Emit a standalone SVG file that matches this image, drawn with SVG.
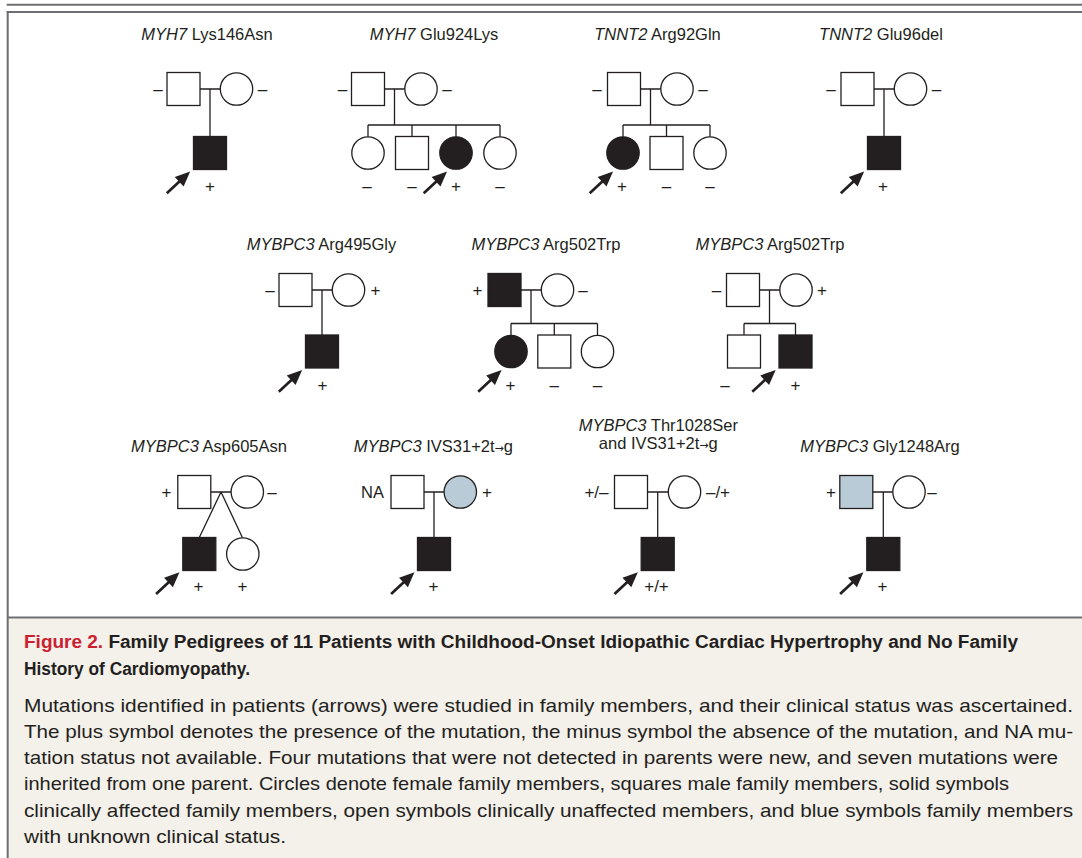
<svg xmlns="http://www.w3.org/2000/svg" width="1082" height="858" viewBox="0 0 1082 858">
<style>
.sh{stroke:#231f20;stroke-width:1.3;fill:#fff}
.aff{fill:#231f20}
.unk{fill:#b9cbd6}
.ln{stroke:#231f20;stroke-width:1.3;fill:none}
.arr{stroke:#231f20;stroke-width:2.7;fill:none;marker-end:url(#ah)}
.ttl{font-family:"Liberation Sans",Arial,sans-serif;font-size:16.5px;fill:#231f20;text-anchor:middle}
.lab{font-family:"Liberation Sans",Arial,sans-serif;font-size:17px;fill:#231f20;text-anchor:middle}
.it{font-style:italic}
.ar{font-family:"DejaVu Sans",sans-serif;font-size:11px}
.frm{stroke:#6d6e71;stroke-width:2;fill:none}
.capt{font-family:"Liberation Sans",Arial,sans-serif;font-size:17.5px;font-weight:bold;fill:#231f20}
.capb{font-family:"Liberation Sans",Arial,sans-serif;font-size:19px;fill:#231f20}
.red{fill:#cc2030}
</style>
<defs>
<marker id="ah" markerUnits="userSpaceOnUse" markerWidth="16" markerHeight="14" refX="4" refY="6.5" orient="auto" overflow="visible">
<path d="M0,0 L15,6.5 L0,13 z" fill="#231f20"/>
</marker>
</defs>

<g id="frame">
<rect x="8.7" y="618.5" width="1073.3" height="239.5" fill="#f4f0ea"/>
<line class="frm" x1="6.7" y1="4.7" x2="1082" y2="4.7"/>
<line class="frm" x1="6.7" y1="12" x2="1082" y2="12"/>
<line class="frm" x1="7.7" y1="11" x2="7.7" y2="858"/>
<line class="frm" x1="7.7" y1="617.6" x2="1082" y2="617.6"/>
</g>

<g id="titles">
<text class="ttl" x="207" y="40"><tspan class="it">MYH7</tspan> Lys146Asn</text>
<text class="ttl" x="434" y="40"><tspan class="it">MYH7</tspan> Glu924Lys</text>
<text class="ttl" x="657.5" y="40"><tspan class="it">TNNT2</tspan> Arg92Gln</text>
<text class="ttl" x="881" y="40"><tspan class="it">TNNT2</tspan> Glu96del</text>
<text class="ttl" x="321.5" y="250"><tspan class="it">MYBPC3</tspan> Arg495Gly</text>
<text class="ttl" x="546" y="250"><tspan class="it">MYBPC3</tspan> Arg502Trp</text>
<text class="ttl" x="770" y="250"><tspan class="it">MYBPC3</tspan> Arg502Trp</text>
<text class="ttl" x="209" y="452"><tspan class="it">MYBPC3</tspan> Asp605Asn</text>
<text class="ttl" x="433.4" y="452"><tspan class="it">MYBPC3</tspan> IVS31+2t<tspan class="ar">→</tspan>g</text>
<text class="ttl" x="658.3" y="431"><tspan class="it">MYBPC3</tspan> Thr1028Ser</text>
<text class="ttl" x="658.3" y="449">and IVS31+2t<tspan class="ar">→</tspan>g</text>
<text class="ttl" x="880" y="452"><tspan class="it">MYBPC3</tspan> Gly1248Arg</text>
</g>

<g id="connectors">
<path class="ln" d="M200 89 H220.3 M210 89 V136.5"/>
<path class="ln" d="M384.5 89 H404.8 M394.5 89 V125 M368 125 H500 M368 125 V136.8 M412 125 V136.5 M456 125 V136.8 M500 125 V136.8"/>
<path class="ln" d="M640.5 89 H660.8 M650.5 89 V125 M623 125 H710 M623 125 V136.8 M666.5 125 V136.5 M710 125 V136.8"/>
<path class="ln" d="M874 89 H894.3 M884 89 V136.5"/>
<path class="ln" d="M312 290 H332.3 M322 290 V335"/>
<path class="ln" d="M521 290 H541.3 M531 290 V323.5 M511 323.5 H597.5 M511 323.5 V335.3 M554.3 323.5 V335 M597.5 323.5 V335.3"/>
<path class="ln" d="M759.5 290 H779.8 M769.5 290 V323.5 M744 323.5 H795.5 M744 323.5 V335 M795.5 323.5 V335"/>
<path class="ln" d="M210.8 492 H231.1 M221 492 L199.3 537.5 M221 492 L242.5 537.8"/>
<path class="ln" d="M424 492 H444.1 M434 492 V537.5"/>
<path class="ln" d="M647.5 492 H668.3 M657.7 492 V537.5"/>
<path class="ln" d="M872.8 492 H892.8 M883.3 492 V537.5"/>
<line class="arr" x1="166.8" y1="193.2" x2="182.1" y2="179"/>
<line class="arr" x1="423.7" y1="193.2" x2="439" y2="179"/>
<line class="arr" x1="589.7" y1="193.2" x2="605" y2="179"/>
<line class="arr" x1="840.8" y1="193.2" x2="856.1" y2="179"/>
<line class="arr" x1="278.8" y1="391.7" x2="294.1" y2="377.5"/>
<line class="arr" x1="478.2" y1="391.7" x2="493.5" y2="377.5"/>
<line class="arr" x1="752.3" y1="391.7" x2="767.6" y2="377.5"/>
<line class="arr" x1="156.1" y1="594" x2="171.4" y2="579.8"/>
<line class="arr" x1="391.1" y1="594" x2="406.4" y2="579.8"/>
<line class="arr" x1="614.5" y1="594" x2="629.8" y2="579.8"/>
<line class="arr" x1="840.1" y1="594" x2="855.4" y2="579.8"/>
</g>

<!-- Pedigree 1 -->
<g id="p1-father"><rect class="sh" x="167" y="72.5" width="33" height="33"/><text class="lab" x="158" y="94.5">–</text></g>
<g id="p1-mother"><circle class="sh" cx="236.5" cy="89" r="16.2"/><text class="lab" x="262.5" y="94.5">–</text></g>
<g id="p1-child"><rect class="sh aff" x="193.5" y="136.5" width="33" height="33"/><text class="lab" x="210" y="192">+</text></g>

<!-- Pedigree 2 -->
<g id="p2-father"><rect class="sh" x="351.5" y="72.5" width="33" height="33"/><text class="lab" x="342.5" y="94.5">–</text></g>
<g id="p2-mother"><circle class="sh" cx="421" cy="89" r="16.2"/><text class="lab" x="447" y="94.5">–</text></g>
<g id="p2-child1"><circle class="sh" cx="368" cy="153" r="16.2"/><text class="lab" x="367" y="192">–</text></g>
<g id="p2-child2"><rect class="sh" x="395.5" y="136.5" width="33" height="33"/><text class="lab" x="412" y="192">–</text></g>
<g id="p2-child3"><circle class="sh aff" cx="456" cy="153" r="16.2"/><text class="lab" x="456" y="192">+</text></g>
<g id="p2-child4"><circle class="sh" cx="500" cy="153" r="16.2"/><text class="lab" x="500" y="192">–</text></g>

<!-- Pedigree 3 -->
<g id="p3-father"><rect class="sh" x="607.5" y="72.5" width="33" height="33"/><text class="lab" x="597" y="94.5">–</text></g>
<g id="p3-mother"><circle class="sh" cx="677" cy="89" r="16.2"/><text class="lab" x="703" y="94.5">–</text></g>
<g id="p3-child1"><circle class="sh aff" cx="623" cy="153" r="16.2"/><text class="lab" x="622" y="192">+</text></g>
<g id="p3-child2"><rect class="sh" x="650" y="136.5" width="33" height="33"/><text class="lab" x="666.5" y="192">–</text></g>
<g id="p3-child3"><circle class="sh" cx="710" cy="153" r="16.2"/><text class="lab" x="710" y="192">–</text></g>

<!-- Pedigree 4 -->
<g id="p4-father"><rect class="sh" x="841" y="72.5" width="33" height="33"/><text class="lab" x="831" y="94.5">–</text></g>
<g id="p4-mother"><circle class="sh" cx="910.5" cy="89" r="16.2"/><text class="lab" x="936.5" y="94.5">–</text></g>
<g id="p4-child"><rect class="sh aff" x="867.5" y="136.5" width="33" height="33"/><text class="lab" x="883" y="192">+</text></g>

<!-- Pedigree 5 -->
<g id="p5-father"><rect class="sh" x="279" y="273.5" width="33" height="33"/><text class="lab" x="270" y="295.5">–</text></g>
<g id="p5-mother"><circle class="sh" cx="348.5" cy="290" r="16.2"/><text class="lab" x="375.5" y="296">+</text></g>
<g id="p5-child"><rect class="sh aff" x="305.5" y="335" width="33" height="33"/><text class="lab" x="322.5" y="390.5">+</text></g>

<!-- Pedigree 6 -->
<g id="p6-father"><rect class="sh aff" x="488" y="273.5" width="33" height="33"/><text class="lab" x="477.5" y="296">+</text></g>
<g id="p6-mother"><circle class="sh" cx="557.5" cy="290" r="16.2"/><text class="lab" x="583" y="295.5">–</text></g>
<g id="p6-child1"><circle class="sh aff" cx="511" cy="351.5" r="16.2"/><text class="lab" x="510.5" y="390.5">+</text></g>
<g id="p6-child2"><rect class="sh" x="537.8" y="335" width="33" height="33"/><text class="lab" x="554.3" y="390.5">–</text></g>
<g id="p6-child3"><circle class="sh" cx="597.5" cy="351.5" r="16.2"/><text class="lab" x="597.5" y="390.5">–</text></g>

<!-- Pedigree 7 -->
<g id="p7-father"><rect class="sh" x="726.5" y="273.5" width="33" height="33"/><text class="lab" x="716.5" y="295.5">–</text></g>
<g id="p7-mother"><circle class="sh" cx="796" cy="290" r="16.2"/><text class="lab" x="822" y="296">+</text></g>
<g id="p7-child1"><rect class="sh" x="727.5" y="335" width="33" height="33"/><text class="lab" x="725" y="390.5">–</text></g>
<g id="p7-child2"><rect class="sh aff" x="779" y="335" width="33" height="33"/><text class="lab" x="795.5" y="390.5">+</text></g>

<!-- Pedigree 9 -->
<g id="p9-father"><rect class="sh" x="177.8" y="475.5" width="33" height="33"/><text class="lab" x="166.5" y="498">+</text></g>
<g id="p9-mother"><circle class="sh" cx="247.3" cy="492" r="16.2"/><text class="lab" x="272" y="497.5">–</text></g>
<g id="p9-child1"><rect class="sh aff" x="182.8" y="537.5" width="33" height="33"/><text class="lab" x="198.5" y="591.5">+</text></g>
<g id="p9-child2"><circle class="sh" cx="242.8" cy="554" r="16.2"/><text class="lab" x="242.5" y="591.5">+</text></g>

<!-- Pedigree 10 -->
<g id="p10-father"><rect class="sh" x="391" y="475.5" width="33" height="33"/><text class="ttl" x="372.5" y="498">NA</text></g>
<g id="p10-mother"><circle class="sh unk" cx="460.3" cy="492" r="16.2"/><text class="lab" x="487" y="498">+</text></g>
<g id="p10-child"><rect class="sh aff" x="417.5" y="537.5" width="33" height="33"/><text class="lab" x="433.5" y="591.5">+</text></g>

<!-- Pedigree 11 -->
<g id="p11-father"><rect class="sh" x="614.5" y="475.5" width="33" height="33"/><text class="lab" x="596.5" y="498">+/–</text></g>
<g id="p11-mother"><circle class="sh" cx="684.5" cy="492" r="16.2"/><text class="lab" x="718" y="498">–/+</text></g>
<g id="p11-child"><rect class="sh aff" x="641.2" y="537.5" width="33" height="33"/><text class="lab" x="656.5" y="591.5">+/+</text></g>

<!-- Pedigree 12 -->
<g id="p12-father"><rect class="sh unk" x="839.8" y="475.5" width="33" height="33"/><text class="lab" x="831" y="498">+</text></g>
<g id="p12-mother"><circle class="sh" cx="909" cy="492" r="16.2"/><text class="lab" x="932" y="497.5">–</text></g>
<g id="p12-child"><rect class="sh aff" x="866.8" y="537.5" width="33" height="33"/><text class="lab" x="882.5" y="591.5">+</text></g>

<g id="caption">
<text class="capt" x="24" y="648" textLength="994" lengthAdjust="spacingAndGlyphs"><tspan class="red">Figure 2.</tspan> Family Pedigrees of 11 Patients with Childhood-Onset Idiopathic Cardiac Hypertrophy and No Family</text>
<text class="capt" x="24" y="675" textLength="226" lengthAdjust="spacingAndGlyphs">History of Cardiomyopathy.</text>
<text class="capb" x="24" y="711.8" textLength="1049" lengthAdjust="spacingAndGlyphs">Mutations identified in patients (arrows) were studied in family members, and their clinical status was ascertained.</text>
<text class="capb" x="24" y="738" textLength="1049" lengthAdjust="spacingAndGlyphs">The plus symbol denotes the presence of the mutation, the minus symbol the absence of the mutation, and NA mu-</text>
<text class="capb" x="24" y="764.2" textLength="1034" lengthAdjust="spacingAndGlyphs">tation status not available. Four mutations that were not detected in parents were new, and seven mutations were</text>
<text class="capb" x="24" y="790.4" textLength="985" lengthAdjust="spacingAndGlyphs">inherited from one parent. Circles denote female family members, squares male family members, solid symbols</text>
<text class="capb" x="24" y="816.6" textLength="1049" lengthAdjust="spacingAndGlyphs">clinically affected family members, open symbols clinically unaffected members, and blue symbols family members</text>
<text class="capb" x="24" y="842.8" textLength="262" lengthAdjust="spacingAndGlyphs">with unknown clinical status.</text>
</g>
</svg>
